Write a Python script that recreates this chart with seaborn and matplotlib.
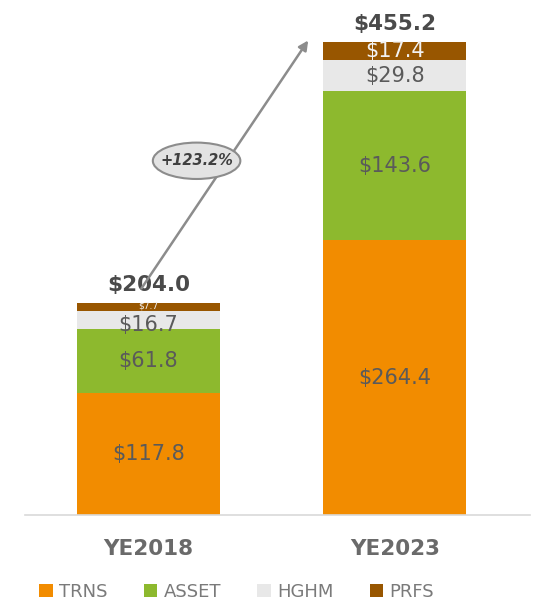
import numpy as np
import pandas as pd
import matplotlib
matplotlib.use("Agg")
import matplotlib.pyplot as plt
import seaborn as sns
from matplotlib.patches import Ellipse

categories = ["YE2018", "YE2023"]
trns = [117.8, 264.4]
asset = [61.8, 143.6]
hghm = [16.7, 29.8]
prfs = [7.7, 17.4]
totals = [204.0, 455.2]
growth_label = "+123.2%"
series_names = ["TRNS", "ASSET", "HGHM", "PRFS"]
colors = ["#F28C00", "#8DB92E", "#E8E8E8", "#985600"]
label_colors = ["#5A5A5A", "#5A5A5A", "#5A5A5A", "#F2F2F2"]

sns.set_theme(style="white")
plt.rcParams['font.family'] = ['DejaVu Sans']

fig = plt.figure(figsize=(5.44, 6.04), dpi=100)
ax = fig.add_axes([0.046, 0.147, 0.928, 0.853])

series = [trns, asset, hghm, prfs]
cum = np.cumsum(np.array(series), axis=0)

# draw from top of stack down so lower segments overlay
for i in range(len(series) - 1, -1, -1):
    df = pd.DataFrame({"cat": categories, "val": cum[i]})
    sns.barplot(data=df, x="cat", y="val", color=colors[i], width=0.58,
                saturation=1, ax=ax, label=series_names[i], edgecolor="none")

# segment labels
for j, cat in enumerate(categories):
    for i in range(len(series)):
        bottom = cum[i - 1][j] if i > 0 else 0
        mid = bottom + series[i][j] / 2
        fs = 15
        if series[i][j] < 10:
            fs = 6.5
            mid += 1.5
        elif i + 1 < len(series) and series[i + 1][j] < 10:
            mid -= 5
        ax.text(j, mid, f"${series[i][j]:.1f}", ha="center", va="center",
                fontsize=fs, color=label_colors[i])
    ax.text(j, totals[j] + 8, f"${totals[j]:.1f}", ha="center", va="bottom",
            fontsize=15.5, fontweight="bold", color="#4A4A4A")

# growth arrow
ax.annotate("", xy=(0.655, 459), xytext=(-0.034, 216),
            arrowprops=dict(arrowstyle="-|>", color="#8C8C8C", lw=1.8,
                            mutation_scale=14))
ell = Ellipse((0.196, 341), width=0.355, height=35, facecolor="#E3E3E3",
              edgecolor="#8C8C8C", lw=1.5, zorder=5)
ax.add_patch(ell)
ax.text(0.196, 341, growth_label, ha="center", va="center", fontsize=10.5,
        fontweight="bold", fontstyle="italic", color="#404040", zorder=6)

ax.set_xlim(-0.50, 1.548)
ax.set_ylim(0, 495.7)
ax.set_xlabel("")
ax.set_ylabel("")
ax.set_yticks([])
ax.tick_params(axis="x", length=0, pad=17)
for lbl in ax.get_xticklabels():
    lbl.set_fontsize(15.5)
    lbl.set_fontweight("bold")
    lbl.set_color("#6A6A6A")
for s in ["top", "right", "left"]:
    ax.spines[s].set_visible(False)
ax.spines["bottom"].set_color("#D9D9D9")
ax.spines["bottom"].set_linewidth(1.2)

handles, labels = ax.get_legend_handles_labels()
order = [labels.index(n) for n in series_names]
leg = fig.legend([handles[k] for k in order], [labels[k] for k in order],
                 loc="center", bbox_to_anchor=(0.435, 0.02), ncol=4, frameon=False,
                 fontsize=13, handlelength=0.75, handleheight=0.75,
                 handletextpad=0.35, columnspacing=2.0)
for t in leg.get_texts():
    t.set_color("#7A7A7A")
if ax.get_legend():
    ax.get_legend().remove()

fig.savefig("out.png", dpi=100)
